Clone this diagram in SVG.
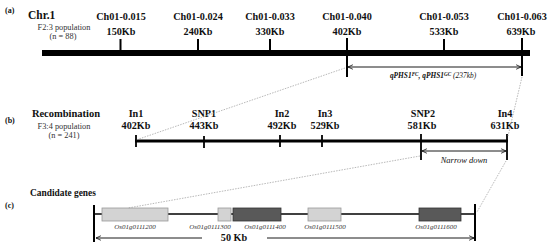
<svg xmlns="http://www.w3.org/2000/svg" width="550" height="247" viewBox="0 0 550 247">
<defs>
<style>
text{font-family:"Liberation Serif","DejaVu Serif",serif;fill:#111}
.b{font-weight:bold;font-size:10.2px;text-anchor:middle}
.lab{font-weight:bold;font-size:8px}
.small{font-size:8.3px;text-anchor:middle;fill:#333}
.gene{font-style:italic;font-size:7px;text-anchor:middle;fill:#333}
.blk{stroke:#000;fill:none}
.dot{stroke:#999;stroke-width:0.7;stroke-dasharray:1.5 1.2;fill:none}
.light{fill:#d3d3d3;stroke:#9a9a9a;stroke-width:0.8}
.dark{fill:#595959;stroke:#333;stroke-width:0.8}
</style>
<marker id="ah" viewBox="0 0 8 8" refX="7.5" refY="4" markerWidth="6" markerHeight="6" orient="auto-start-reverse" markerUnits="userSpaceOnUse">
<path d="M1,1 L7.5,4 L1,7" fill="none" stroke="#000" stroke-width="1"/>
</marker>
</defs>
<rect width="550" height="247" fill="#fff"/>

<g id="section-a">
<text x="5" y="13" class="lab">(a)</text>
<text x="28" y="19" style="font-weight:bold;font-size:11.5px">Chr.1</text>
<text x="64" y="30" class="small">F2:3 population</text>
<text x="63" y="39" class="small">(n = 88)</text>
<rect x="42" y="50" width="488" height="6" fill="#000"/>
</g>

<g id="m150"><line class="blk" stroke-width="2" x1="120.5" y1="39" x2="120.5" y2="50"/><text x="121" y="20" class="b">Ch01-0.015</text><text x="121" y="35" class="b">150Kb</text></g>
<g id="m240"><line class="blk" stroke-width="2" x1="198" y1="39" x2="198" y2="50"/><text x="198" y="20" class="b">Ch01-0.024</text><text x="198" y="35" class="b">240Kb</text></g>
<g id="m330"><line class="blk" stroke-width="2" x1="270" y1="39" x2="270" y2="50"/><text x="270" y="20" class="b">Ch01-0.033</text><text x="270" y="35" class="b">330Kb</text></g>
<g id="m402"><line class="blk" stroke-width="2" x1="347" y1="38" x2="347" y2="77"/><text x="347" y="20" class="b">Ch01-0.040</text><text x="347" y="35" class="b">402Kb</text></g>
<g id="m533"><line class="blk" stroke-width="2" x1="444" y1="39" x2="444" y2="50"/><text x="444" y="20" class="b">Ch01-0.053</text><text x="444" y="35" class="b">533Kb</text></g>
<g id="m639"><line class="blk" stroke-width="2" x1="522" y1="38" x2="522" y2="76"/><text x="522" y="20" class="b">Ch01-0.063</text><text x="521" y="35" class="b">639Kb</text></g>

<g id="section-b">
<text x="5" y="123" class="lab">(b)</text>
<text x="66" y="117" class="b" style="font-size:10.5px">Recombination</text>
<text x="64" y="129" class="small">F3:4 population</text>
<text x="64" y="138" class="small">(n = 241)</text>
<line class="blk" stroke-width="3" x1="135" y1="141" x2="508" y2="141"/>
</g>

<g id="In1"><line class="blk" stroke-width="1.8" x1="136" y1="135" x2="136" y2="147"/><text x="136" y="117" class="b">In1</text><text x="136" y="129" class="b">402Kb</text></g>
<g id="SNP1"><line class="blk" stroke-width="1.8" x1="204" y1="136" x2="204" y2="148"/><text x="204" y="117" class="b">SNP1</text><text x="204" y="129" class="b">443Kb</text></g>
<g id="In2"><line class="blk" stroke-width="1.8" x1="280" y1="135" x2="280" y2="147"/><text x="282" y="117" class="b">In2</text><text x="282" y="129" class="b">492Kb</text></g>
<g id="In3"><line class="blk" stroke-width="1.8" x1="322" y1="135" x2="322" y2="147"/><text x="325" y="117" class="b">In3</text><text x="325" y="129" class="b">529Kb</text></g>
<g id="SNP2"><line class="blk" stroke-width="1.8" x1="421" y1="134" x2="421" y2="160"/><text x="423" y="117" class="b">SNP2</text><text x="422" y="129" class="b">581Kb</text></g>
<g id="In4"><line class="blk" stroke-width="1.8" x1="507" y1="134" x2="507" y2="160"/><text x="505" y="117" class="b">In4</text><text x="505" y="129" class="b">631Kb</text></g>

<g id="section-c">
<text x="5" y="208" class="lab">(c)</text>
<text x="30" y="196" style="font-weight:bold;font-size:9.4px">Candidate genes</text>
<line class="blk" stroke-width="1.5" x1="94" y1="214" x2="475" y2="214"/>
<line class="blk" stroke-width="2" x1="94" y1="205" x2="94" y2="242"/>
<line class="blk" stroke-width="2" x1="475" y1="204" x2="475" y2="241"/>
</g>
<g id="g1200"><rect class="light" x="102" y="208" width="66" height="13"/><text x="135" y="229" class="gene">Os01g0111200</text></g>
<g id="g1300"><rect class="light" x="218" y="208" width="13" height="13"/><text x="210" y="229" class="gene">Os01g0111300</text></g>
<g id="g1400"><rect class="dark" x="233" y="208" width="48" height="13"/><text x="265" y="229" class="gene">Os01g0111400</text></g>
<g id="g1500"><rect class="light" x="308" y="208" width="33" height="13"/><text x="325" y="229" class="gene">Os01g0111500</text></g>
<g id="g1600"><rect class="dark" x="419" y="208" width="42" height="13"/><text x="436" y="229" class="gene">Os01g0111600</text></g>

<g id="connectors">
<line class="dot" x1="345" y1="68" x2="136" y2="140"/>
<line class="dot" x1="522" y1="77" x2="508" y2="136"/>
<line class="dot" x1="420" y1="156" x2="128" y2="208"/>
<line class="dot" x1="506" y1="161" x2="477" y2="212"/>
<line class="blk" stroke-width="0.9" x1="348" y1="67" x2="521" y2="67" marker-start="url(#ah)" marker-end="url(#ah)"/>
<text x="433" y="78" style="font-weight:bold;font-style:italic;font-size:7.4px;text-anchor:middle">qPHS1<tspan dy="-2.5" font-size="5.2">FC</tspan><tspan dy="2.5">, qPHS1</tspan><tspan dy="-2.5" font-size="5.2">GC</tspan><tspan dy="2.5" font-weight="normal"> (237kb)</tspan></text>
<line class="blk" stroke-width="0.9" x1="422" y1="151" x2="506" y2="151" marker-start="url(#ah)" marker-end="url(#ah)"/>
<text x="464" y="163" style="font-style:italic;font-size:8.5px;text-anchor:middle">Narrow down</text>
<line class="blk" stroke-width="0.9" x1="96" y1="238" x2="202" y2="238" marker-start="url(#ah)"/>
<line class="blk" stroke-width="0.9" x1="267" y1="238" x2="474" y2="238" marker-end="url(#ah)"/>
<text x="234" y="241" class="b">50 Kb</text>
</g>
</svg>
